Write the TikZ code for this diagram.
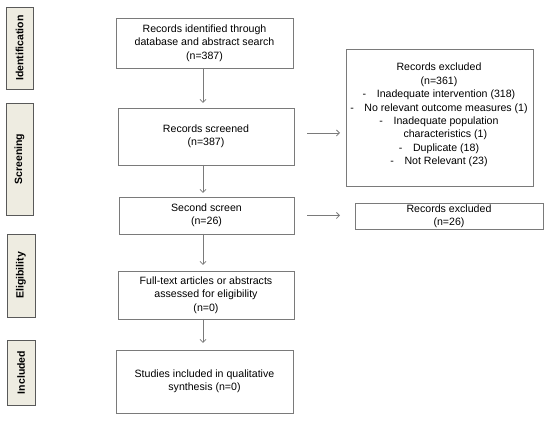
\documentclass[tikz,border=0pt]{standalone}
\usepackage{fontspec}
\setmainfont{Liberation Sans}
\usetikzlibrary{arrows.meta}
\definecolor{sidefill}{HTML}{EEECE1}
\definecolor{boxline}{HTML}{7A7A7A}
\begin{document}
\begin{tikzpicture}[x=1pt,y=-1pt,
  every node/.style={inner sep=0pt,outer sep=0pt},
  flowbox/.style={draw=boxline,line width=0.9pt,fill=white,align=center,
    font=\fontsize{10.6}{13.4}\selectfont},
  sidebox/.style={draw=black!65,line width=0.9pt,fill=sidefill},
  sidetext/.style={rotate=90,font=\fontsize{10.5}{12}\selectfont\bfseries},
  arr/.style={draw=boxline,line width=0.8pt,-{Straight Barb[length=3pt,width=6pt]}}]
\useasboundingbox (0,0) rectangle (550,422);
% side labels
\node[sidebox,minimum width=27pt,minimum height=82pt] (s1) at (19.5,48) {};
\node[sidetext] (s1t) at (s1.center) {Identification};
\node[sidebox,minimum width=27pt,minimum height=112pt] (s2) at (19.5,159) {};
\node[sidetext] (s2t) at (s2.center) {Screening};
\node[sidebox,minimum width=28pt,minimum height=83pt] (s3) at (21,275.5) {};
\node[sidetext] (s3t) at (s3.center) {Eligibility};
\node[sidebox,minimum width=28pt,minimum height=65pt] (s4) at (21,372.5) {};
\node[sidetext] (s4t) at (s4.center) {Included};
% main flow
\node[flowbox,minimum width=177pt,minimum height=50pt] (b1) at (204.5,43)
  {Records identified through\\database and abstract search\\(n=387)};
\node[flowbox,minimum width=176pt,minimum height=57pt] (b2) at (206,136.5)
  {Records screened\\(n=387)};
\node[flowbox,minimum width=175pt,minimum height=37pt] (b3) at (206.5,215.5)
  {Second screen\\(n=26)};
\node[flowbox,minimum width=176pt,minimum height=48pt] (b4) at (206,295)
  {Full-text articles or abstracts\\assessed for eligibility\\(n=0)};
\node[flowbox,minimum width=177pt,minimum height=63pt] (b5) at (204.5,381.5)
  {Studies included in qualitative\\synthesis (n=0)};
% excluded
\node[flowbox,minimum width=187pt,minimum height=137pt] (e1) at (439.5,117.5) {};
\node[align=center,font=\fontsize{10.6}{13.4}\selectfont] (e1t) at (439,115)
  {Records excluded\\(n=361)\\-\quad Inadequate intervention (318)\\-\quad No relevant outcome measures (1)\\-\quad Inadequate population\\\hspace*{1.2em}characteristics (1)\\-\quad Duplicate (18)\\-\quad Not Relevant (23)};
\node[flowbox,minimum width=188pt,minimum height=26pt] (e2) at (449,216)
  {Records excluded\\(n=26)};
% arrows
\coordinate (ax) at (203,0);
\draw[arr] (b1.south -| ax) -- ([yshift=5pt]b2.north -| ax);
\draw[arr] (b2.south -| ax) -- ([yshift=4pt]b3.north -| ax);
\draw[arr] (b3.south -| ax) -- ([yshift=6pt]b4.north -| ax);
\draw[arr] (b4.south -| ax) -- ([yshift=7pt]b5.north -| ax);
\draw[arr] ([xshift=13pt,yshift=3.5pt]b2.east) -- ([xshift=-6pt,yshift=3.5pt]b2.east -| e1.west);
\draw[arr] ([xshift=13pt]b3.east) -- ([xshift=-15pt]b3.east -| e2.west);
\end{tikzpicture}
\end{document}
